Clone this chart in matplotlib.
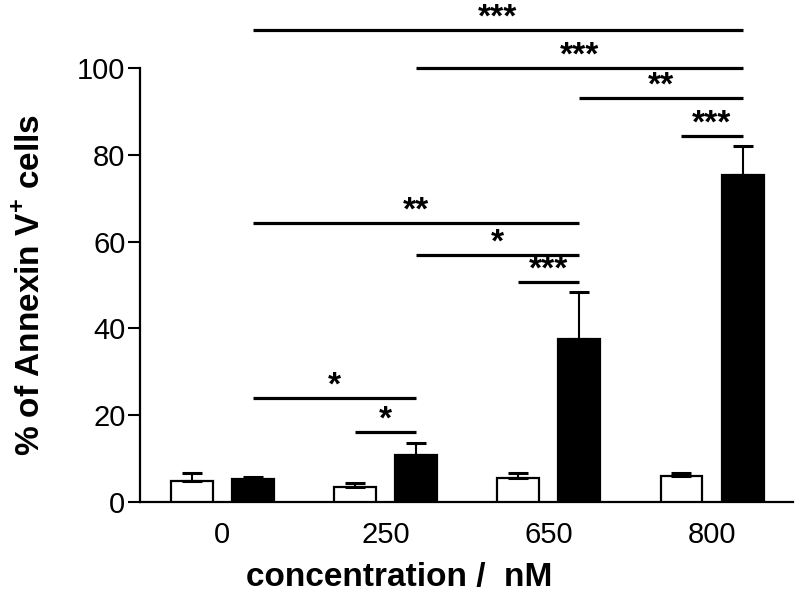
import matplotlib

matplotlib.use("Agg")
import matplotlib.pyplot as plt
import numpy as np

plt.rcParams["font.family"] = ["Liberation Sans", "DejaVu Sans"]
plt.rcParams["mathtext.fontset"] = "custom"
plt.rcParams["mathtext.bf"] = "Liberation Sans:bold"
plt.rcParams["mathtext.rm"] = "Liberation Sans:bold"

concentrations = ["0", "250", "650", "800"]
control_mean = [4.9, 3.5, 5.6, 6.0]
control_err = [1.8, 0.8, 1.2, 0.8]
treated_mean = [5.2, 10.9, 37.5, 75.3]
treated_err = [0.6, 2.8, 10.8, 6.7]
y_ticks = [0, 20, 40, 60, 80, 100]

# (group, series) -> (group, series), height, label ; series 0 = white, 1 = black
brackets = [
    ((0, 1), (3, 1), 108.8, "***"),
    ((1, 1), (3, 1), 99.9, "***"),
    ((2, 1), (3, 1), 93.0, "**"),
    ((3, 0), (3, 1), 84.3, "***"),
    ((0, 1), (2, 1), 64.2, "**"),
    ((1, 1), (2, 1), 56.9, "*"),
    ((2, 0), (2, 1), 50.8, "***"),
    ((0, 1), (1, 1), 23.9, "*"),
    ((1, 0), (1, 1), 16.1, "*"),
]

BAR_WIDTH = 0.257
OFFSET = 0.187


def bar_x(group: int, series: int) -> float:
    return group + (OFFSET if series else -OFFSET)


fig = plt.figure(figsize=(8, 6.08), dpi=100)
ax = fig.add_axes([0.175, 0.1743, 0.816, 0.7138])

x = np.arange(len(concentrations))
err_kw = dict(elinewidth=1.5, capsize=7.5, capthick=2.2, ecolor="black")
ax.bar(x - OFFSET, control_mean, BAR_WIDTH, color="white", edgecolor="black",
       linewidth=1.6, yerr=[np.zeros(4), control_err], error_kw=err_kw, zorder=3)
ax.bar(x + OFFSET, treated_mean, BAR_WIDTH, color="black", edgecolor="black",
       linewidth=1.6, yerr=[np.zeros(4), treated_err], error_kw=err_kw, zorder=3)

for start, end, height, label in brackets:
    x0, x1 = bar_x(*start), bar_x(*end)
    ax.plot([x0, x1], [height, height], color="black", lw=2.3,
            solid_capstyle="butt", clip_on=False)
    ax.annotate(label, ((x0 + x1) / 2, height), xytext=(0, 2.5),
                textcoords="offset points", ha="center", va="baseline",
                fontsize=24, fontweight="bold", annotation_clip=False)

ax.set_xlim(-0.505, 3.495)
ax.set_ylim(0, 100)
ax.set_yticks(y_ticks)
ax.set_xticks(x)
ax.set_xticklabels(concentrations)
ax.tick_params(axis="y", length=8.5, width=1.5, pad=2, labelsize=21)
ax.tick_params(axis="x", length=0, pad=14, labelsize=21)
for side in ("top", "right"):
    ax.spines[side].set_visible(False)
for side in ("left", "bottom"):
    ax.spines[side].set_linewidth(1.6)

ax.set_xlabel("concentration /  nM", fontsize=24, fontweight="bold", va="center")
ax.xaxis.set_label_coords(0.397, -0.173)
ax.set_ylabel(r"% of Annexin V$^{\mathbf{+}}$ cells", fontsize=24,
              fontweight="bold", va="center")
ax.yaxis.set_label_coords(-0.166, 0.5)

fig.savefig("out.png", dpi=100)
